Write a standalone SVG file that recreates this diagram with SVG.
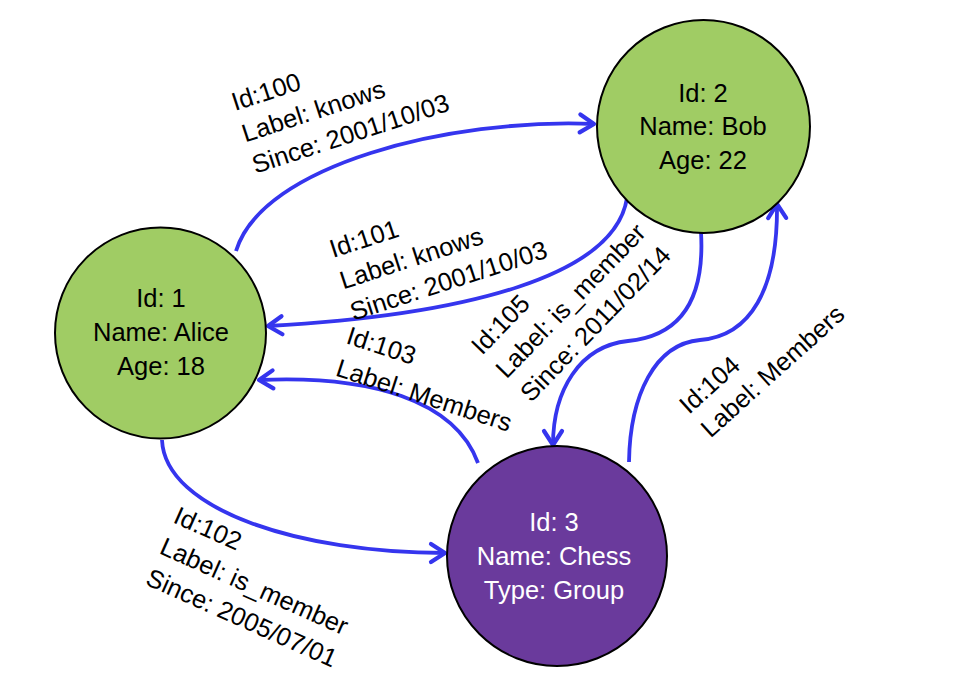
<svg xmlns="http://www.w3.org/2000/svg" width="960" height="688" viewBox="0 0 960 688">
<style>
.node{stroke:#000;stroke-width:2}
.green{fill:#a0cc64}
.purple{fill:#6a3a9c}
.nt{font-family:"Liberation Sans",Arial,sans-serif;font-size:25.5px;text-anchor:middle;fill:#000}
.wt{fill:#fff}
.edge{fill:none;stroke:#3535ee;stroke-width:3.8;marker-end:url(#arr)}
.el{font-family:"Liberation Sans",Arial,sans-serif;font-size:25.5px;fill:#000}
</style>
<defs>
<marker id="arr" markerUnits="userSpaceOnUse" markerWidth="30" markerHeight="30" refX="0" refY="0" viewBox="-20 -15 25 30" orient="auto">
<path d="M-14,-9 L0,0 L-14,9" fill="none" stroke="#3535ee" stroke-width="4.2" stroke-linecap="round" stroke-linejoin="round"/>
</marker>
</defs>
<rect width="960" height="688" fill="#fff"/>
<g id="edges">
<path id="e100" class="edge" d="M236,251 C262,165 450,118 594,124"/>
<path id="e101" class="edge" d="M627,198 C615,275 470,315 268,326"/>
<path id="e105" class="edge" d="M701,232 C705,300 680,336 628,341 C580,346 553,390 553,445"/>
<path id="e104" class="edge" d="M629,462 C630,395 655,344 700,340 C750,336 778,290 777,204"/>
<path id="e103" class="edge" d="M478,463 C455,400 370,375 259,380"/>
<path id="e102" class="edge" d="M162,440 C165,510 300,553 445,553"/>
</g>
<g id="edge-labels">
<text class="el" transform="translate(235,111) rotate(-18)"><tspan x="0" y="0">Id:100</tspan><tspan x="0" y="33">Label: knows</tspan><tspan x="0" y="66">Since: 2001/10/03</tspan></text>
<text class="el" transform="translate(333,258) rotate(-18)"><tspan x="0" y="0">Id:101</tspan><tspan x="0" y="33">Label: knows</tspan><tspan x="0" y="66">Since: 2001/10/03</tspan></text>
<text class="el" transform="translate(482,356) rotate(-46)"><tspan x="0" y="0">Id:105</tspan><tspan x="0" y="34">Label: is_member</tspan><tspan x="0" y="68">Since: 2011/02/14</tspan></text>
<text class="el" transform="translate(689,415) rotate(-42)"><tspan x="0" y="0">Id:104</tspan><tspan x="0" y="32">Label: Members</tspan></text>
<text class="el" transform="translate(345,343) rotate(18)"><tspan x="0" y="0">Id:103</tspan><tspan x="0" y="34">Label: Members</tspan></text>
<text class="el" transform="translate(172,522) rotate(24)"><tspan x="0" y="0">Id:102</tspan><tspan x="0" y="34">Label: is_member</tspan><tspan x="0" y="68">Since: 2005/07/01</tspan></text>
</g>
<g id="node1">
<circle class="node green" cx="160.5" cy="333" r="105.5"/>
<text class="nt" x="161" y="307">Id: 1</text>
<text class="nt" x="161" y="341">Name: Alice</text>
<text class="nt" x="161" y="375">Age: 18</text>
</g>
<g id="node2">
<circle class="node green" cx="703.5" cy="126.5" r="106.5"/>
<text class="nt" x="703" y="102">Id: 2</text>
<text class="nt" x="703" y="135">Name: Bob</text>
<text class="nt" x="703" y="169">Age: 22</text>
</g>
<g id="node3">
<circle class="node purple" cx="557" cy="556" r="110"/>
<text class="nt wt" x="554" y="531">Id: 3</text>
<text class="nt wt" x="554" y="565">Name: Chess</text>
<text class="nt wt" x="554" y="599">Type: Group</text>
</g>
</svg>
